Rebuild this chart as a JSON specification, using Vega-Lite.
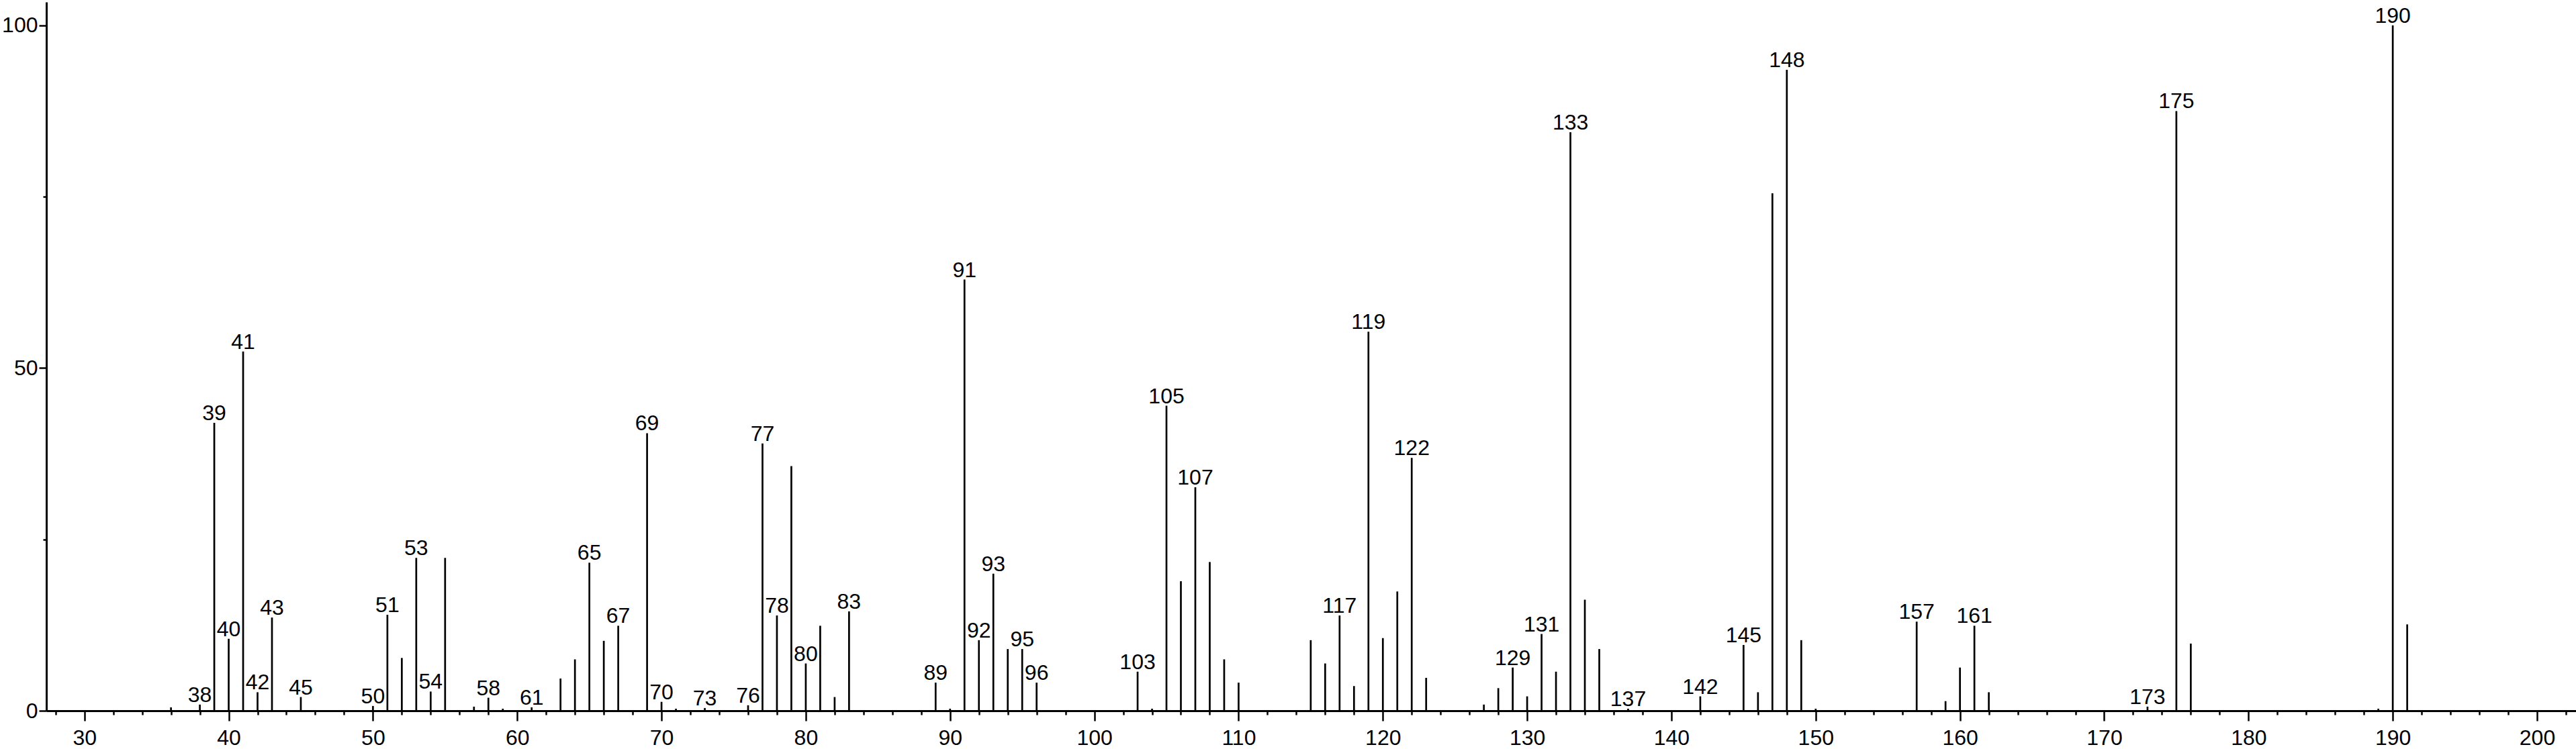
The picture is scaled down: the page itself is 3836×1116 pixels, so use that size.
{
  "$schema": "https://vega.github.io/schema/vega-lite/v6.json",
  "width": 3767,
  "height": 1056,
  "autosize": {"type": "none"},
  "padding": {"left": 69, "top": 3, "right": 0, "bottom": 57},
  "background": "white",
  "config": {"view": {"stroke": null}, "font": "Liberation Sans"},
  "data": {
    "values": [
      {"mz": 36, "rel": 0.5, "lab": ""},
      {"mz": 38, "rel": 0.9, "lab": "38"},
      {"mz": 39, "rel": 42.0, "lab": "39"},
      {"mz": 40, "rel": 10.5, "lab": "40"},
      {"mz": 41, "rel": 52.4, "lab": "41"},
      {"mz": 42, "rel": 2.7, "lab": "42"},
      {"mz": 43, "rel": 13.6, "lab": "43"},
      {"mz": 45, "rel": 2.0, "lab": "45"},
      {"mz": 50, "rel": 0.7, "lab": "50"},
      {"mz": 51, "rel": 14.0, "lab": "51"},
      {"mz": 52, "rel": 7.7, "lab": ""},
      {"mz": 53, "rel": 22.3, "lab": "53"},
      {"mz": 54, "rel": 2.8, "lab": "54"},
      {"mz": 55, "rel": 22.3, "lab": ""},
      {"mz": 57, "rel": 0.6, "lab": ""},
      {"mz": 58, "rel": 1.9, "lab": "58"},
      {"mz": 59, "rel": 0.3, "lab": ""},
      {"mz": 61, "rel": 0.5, "lab": "61"},
      {"mz": 63, "rel": 4.7, "lab": ""},
      {"mz": 64, "rel": 7.5, "lab": ""},
      {"mz": 65, "rel": 21.6, "lab": "65"},
      {"mz": 66, "rel": 10.2, "lab": ""},
      {"mz": 67, "rel": 12.4, "lab": "67"},
      {"mz": 69, "rel": 40.5, "lab": "69"},
      {"mz": 70, "rel": 1.3, "lab": "70"},
      {"mz": 71, "rel": 0.3, "lab": ""},
      {"mz": 73, "rel": 0.4, "lab": "73"},
      {"mz": 76, "rel": 0.8, "lab": "76"},
      {"mz": 77, "rel": 39.0, "lab": "77"},
      {"mz": 78, "rel": 13.9, "lab": "78"},
      {"mz": 79, "rel": 35.7, "lab": ""},
      {"mz": 80, "rel": 6.9, "lab": "80"},
      {"mz": 81, "rel": 12.4, "lab": ""},
      {"mz": 82, "rel": 2.0, "lab": ""},
      {"mz": 83, "rel": 14.5, "lab": "83"},
      {"mz": 89, "rel": 4.1, "lab": "89"},
      {"mz": 90, "rel": 0.3, "lab": ""},
      {"mz": 91, "rel": 62.9, "lab": "91"},
      {"mz": 92, "rel": 10.3, "lab": "92"},
      {"mz": 93, "rel": 20.0, "lab": "93"},
      {"mz": 94, "rel": 9.0, "lab": ""},
      {"mz": 95, "rel": 9.0, "lab": "95"},
      {"mz": 96, "rel": 4.1, "lab": "96"},
      {"mz": 103, "rel": 5.7, "lab": "103"},
      {"mz": 104, "rel": 0.3, "lab": ""},
      {"mz": 105, "rel": 44.5, "lab": "105"},
      {"mz": 106, "rel": 18.9, "lab": ""},
      {"mz": 107, "rel": 32.6, "lab": "107"},
      {"mz": 108, "rel": 21.7, "lab": ""},
      {"mz": 109, "rel": 7.5, "lab": ""},
      {"mz": 110, "rel": 4.1, "lab": ""},
      {"mz": 115, "rel": 10.3, "lab": ""},
      {"mz": 116, "rel": 6.9, "lab": ""},
      {"mz": 117, "rel": 13.9, "lab": "117"},
      {"mz": 118, "rel": 3.6, "lab": ""},
      {"mz": 119, "rel": 55.3, "lab": "119"},
      {"mz": 120, "rel": 10.6, "lab": ""},
      {"mz": 121, "rel": 17.4, "lab": ""},
      {"mz": 122, "rel": 36.9, "lab": "122"},
      {"mz": 123, "rel": 4.8, "lab": ""},
      {"mz": 127, "rel": 0.9, "lab": ""},
      {"mz": 128, "rel": 3.3, "lab": ""},
      {"mz": 129, "rel": 6.3, "lab": "129"},
      {"mz": 130, "rel": 2.1, "lab": ""},
      {"mz": 131, "rel": 11.2, "lab": "131"},
      {"mz": 132, "rel": 5.7, "lab": ""},
      {"mz": 133, "rel": 84.4, "lab": "133"},
      {"mz": 134, "rel": 16.2, "lab": ""},
      {"mz": 135, "rel": 9.0, "lab": ""},
      {"mz": 137, "rel": 0.3, "lab": "137"},
      {"mz": 142, "rel": 2.1, "lab": "142"},
      {"mz": 145, "rel": 9.6, "lab": "145"},
      {"mz": 146, "rel": 2.7, "lab": ""},
      {"mz": 147, "rel": 75.5, "lab": ""},
      {"mz": 148, "rel": 93.5, "lab": "148"},
      {"mz": 149, "rel": 10.3, "lab": ""},
      {"mz": 150, "rel": 0.3, "lab": ""},
      {"mz": 157, "rel": 13.0, "lab": "157"},
      {"mz": 159, "rel": 1.4, "lab": ""},
      {"mz": 160, "rel": 6.3, "lab": ""},
      {"mz": 161, "rel": 12.4, "lab": "161"},
      {"mz": 162, "rel": 2.7, "lab": ""},
      {"mz": 173, "rel": 0.6, "lab": "173"},
      {"mz": 175, "rel": 87.5, "lab": "175"},
      {"mz": 176, "rel": 9.8, "lab": ""},
      {"mz": 189, "rel": 0.3, "lab": ""},
      {"mz": 190, "rel": 100.0, "lab": "190"},
      {"mz": 191, "rel": 12.6, "lab": ""}
    ]
  },
  "layer": [
    {
      "mark": {"type": "rule", "color": "black", "strokeWidth": 2.7},
      "encoding": {
        "x": {
          "field": "mz",
          "type": "quantitative",
          "scale": {"domain": [27.36, 202.7], "nice": false, "zero": false},
          "axis": {
            "title": null,
            "grid": false,
            "values": [28,30,32,34,36,38,40,42,44,46,48,50,52,54,56,58,60,62,64,66,68,70,72,74,76,78,80,82,84,86,88,90,92,94,96,98,100,102,104,106,108,110,112,114,116,118,120,122,124,126,128,130,132,134,136,138,140,142,144,146,148,150,152,154,156,158,160,162,164,166,168,170,172,174,176,178,180,182,184,186,188,190,192,194,196,198,200,202],
            "domainColor": "black",
            "domainWidth": 3,
            "tickColor": "black",
            "tickWidth": 2.5,
            "tickSize": {"condition": {"test": "datum.value % 10 === 0", "value": 15}, "value": 6},
            "labelExpr": "datum.value % 10 === 0 ? datum.label : ''",
            "labelFont": "Liberation Sans",
            "labelFontSize": 32,
            "labelColor": "black",
            "labelPadding": 10,
            "labelFlush": false,
            "labelOverlap": false
          }
        },
        "y": {
          "field": "rel",
          "type": "quantitative",
          "scale": {"domain": [0, 103.4], "nice": false},
          "axis": {
            "title": null,
            "grid": false,
            "values": [0, 25, 50, 75, 100],
            "domainColor": "black",
            "domainWidth": 3,
            "tickColor": "black",
            "tickWidth": 2.5,
            "tickSize": {"condition": {"test": "datum.value % 50 === 0", "value": 11}, "value": 5},
            "labelExpr": "datum.value % 50 === 0 ? datum.label : ''",
            "labelFont": "Liberation Sans",
            "labelFontSize": 32,
            "labelColor": "black",
            "labelPadding": 2,
            "labelFlush": false,
            "labelOverlap": false
          }
        },
        "y2": {"datum": 0}
      }
    },
    {
      "transform": [{"filter": "datum.lab != ''"}],
      "mark": {"type": "text", "font": "Liberation Sans", "fontSize": 32, "baseline": "alphabetic", "align": "center", "dy": -4, "color": "black"},
      "encoding": {
        "x": {"field": "mz", "type": "quantitative"},
        "y": {"field": "rel", "type": "quantitative"},
        "text": {"field": "lab"}
      }
    }
  ]
}
